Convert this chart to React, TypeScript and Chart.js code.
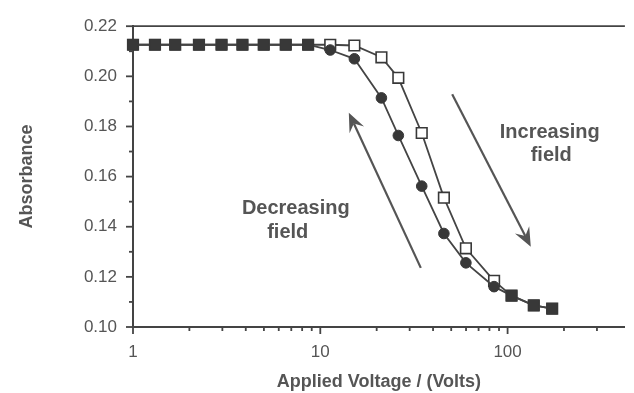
import React, { useEffect, useRef } from "react";
import { Chart, registerables } from "chart.js";

Chart.register(...registerables);

// ---- data ----
const voltages = [1.0, 1.31, 1.68, 2.25, 2.97, 3.84, 4.99, 6.54, 8.61, 11.3, 15.2, 21.2, 26.1, 34.8, 45.7, 59.9, 84.7, 105, 138, 173];
const increasingField = [0.2126, 0.2126, 0.2126, 0.2126, 0.2126, 0.2126, 0.2126, 0.2126, 0.2126, 0.2126, 0.2123, 0.2076, 0.1994, 0.1774, 0.1516, 0.1314, 0.1184, 0.1125, 0.1086, 0.1073];
const decreasingField = [0.2126, 0.2126, 0.2126, 0.2126, 0.2126, 0.2126, 0.2126, 0.2126, 0.2126, 0.2105, 0.2070, 0.1914, 0.1764, 0.1562, 0.1373, 0.1256, 0.1161, 0.1125, 0.1086, 0.1073];

const xTickValues = [1, 2, 3, 4, 5, 6, 7, 8, 9, 10, 20, 30, 40, 50, 60, 70, 80, 90, 100, 200, 300];
const xTickLabels = ["1", "10", "100"];
const yTickValues = [0.10, 0.11, 0.12, 0.13, 0.14, 0.15, 0.16, 0.17, 0.18, 0.19, 0.20, 0.21, 0.22];
const yTickLabels = ["0.10", "0.12", "0.14", "0.16", "0.18", "0.20", "0.22"];

// annotations in data coordinates
const arrowDecreasing = { from: [34.4, 0.1236], to: [14.2, 0.1855] };
const arrowIncreasing = { from: [50.6, 0.1929], to: [133, 0.132] };
const annotationTexts = [
  { text: "Increasing", x: 168, y: 0.1774 },
  { text: "field", x: 171, y: 0.1684 },
  { text: "Decreasing", x: 7.4, y: 0.1473 },
  { text: "field", x: 6.7, y: 0.1379 },
];

const FONT = "'Liberation Sans', Arial, Helvetica, sans-serif";
const TEXT = "#555";
const INK = "#383838";

const tickMarksPlugin = {
  id: "tickMarks",
  afterDraw(chart: any) {
    const { ctx, chartArea, scales } = chart;
    const xs = scales.x;
    const ys = scales.y;
    ctx.save();
    ctx.strokeStyle = "#444";
    ctx.lineWidth = 1.8;
    // top frame line
    ctx.beginPath();
    ctx.moveTo(chartArea.left, chartArea.top);
    ctx.lineTo(chartArea.right, chartArea.top);
    ctx.stroke();
    xs.ticks.forEach((t: any) => {
      const px = xs.getPixelForValue(t.value);
      const len = xTickLabels.includes(String(t.value)) ? 7 : 4;
      ctx.beginPath();
      ctx.moveTo(px, chartArea.bottom);
      ctx.lineTo(px, chartArea.bottom + len);
      ctx.stroke();
    });
    ys.ticks.forEach((t: any) => {
      const py = ys.getPixelForValue(t.value);
      const major = yTickLabels.includes(Number(t.value).toFixed(2));
      const len = major ? 7 : 4;
      ctx.beginPath();
      ctx.moveTo(chartArea.left - len, py);
      ctx.lineTo(chartArea.left, py);
      ctx.stroke();
    });
    ctx.restore();
  },
};

function drawArrow(ctx: any, x1: number, y1: number, x2: number, y2: number) {
  const ang = Math.atan2(y2 - y1, x2 - x1);
  const headLen = 19;
  const headW = 8;
  const notch = 12;
  ctx.beginPath();
  ctx.moveTo(x1, y1);
  ctx.lineTo(x2 - Math.cos(ang) * notch, y2 - Math.sin(ang) * notch);
  ctx.stroke();
  const bx = x2 - Math.cos(ang) * headLen;
  const by = y2 - Math.sin(ang) * headLen;
  const nx = -Math.sin(ang);
  const ny = Math.cos(ang);
  ctx.beginPath();
  ctx.moveTo(x2, y2);
  ctx.lineTo(bx + nx * headW, by + ny * headW);
  ctx.lineTo(x2 - Math.cos(ang) * notch, y2 - Math.sin(ang) * notch);
  ctx.lineTo(bx - nx * headW, by - ny * headW);
  ctx.closePath();
  ctx.fill();
}

const annotationPlugin = {
  id: "annotations",
  afterDraw(chart: any) {
    const { ctx, scales } = chart;
    const xs = scales.x;
    const ys = scales.y;
    ctx.save();
    ctx.strokeStyle = "#555";
    ctx.fillStyle = "#555";
    ctx.lineWidth = 2.2;
    [arrowDecreasing, arrowIncreasing].forEach((a) => {
      drawArrow(
        ctx,
        xs.getPixelForValue(a.from[0]),
        ys.getPixelForValue(a.from[1]),
        xs.getPixelForValue(a.to[0]),
        ys.getPixelForValue(a.to[1])
      );
    });
    ctx.font = `bold 20px ${FONT}`;
    ctx.textAlign = "center";
    ctx.textBaseline = "middle";
    annotationTexts.forEach((t) => {
      ctx.fillText(t.text, xs.getPixelForValue(t.x), ys.getPixelForValue(t.y));
    });
    ctx.restore();
  },
};

export default function App() {
  const canvasRef = useRef<HTMLCanvasElement | null>(null);

  useEffect(() => {
    document.body.style.margin = "0";
    const canvas = canvasRef.current;
    if (!canvas) return;

    const incPoints = voltages.map((v, i) => ({ x: v, y: increasingField[i] }));
    const decPoints = voltages.map((v, i) => ({ x: v, y: decreasingField[i] }));
    const same = (i: number) => increasingField[i] === decreasingField[i];

    const chart = new Chart(canvas, {
      type: "line",
      data: {
        datasets: [
          {
            label: "Decreasing field",
            data: decPoints,
            borderColor: "#444",
            borderWidth: 1.8,
            backgroundColor: INK,
            pointBackgroundColor: INK,
            pointBorderColor: INK,
            pointBorderWidth: 1,
            pointStyle: (c: any) => (same(c.dataIndex) ? "rect" : "circle"),
            pointRadius: (c: any) => (same(c.dataIndex) ? 7.5 : 5.3),
            tension: 0,
            clip: false,
          } as any,
          {
            label: "Increasing field",
            data: incPoints,
            borderColor: "#444",
            borderWidth: 1.8,
            backgroundColor: "#fff",
            pointBackgroundColor: "#fff",
            pointBorderColor: INK,
            pointBorderWidth: 1.6,
            pointStyle: "rect",
            pointRadius: 7.5,
            tension: 0,
            clip: false,
          } as any,
        ],
      },
      options: {
        animation: false,
        responsive: true,
        maintainAspectRatio: false,
        layout: { padding: { top: 20, right: 2, left: 0, bottom: 0 } },
        plugins: {
          legend: { display: false },
          tooltip: { enabled: false },
        },
        scales: {
          x: {
            type: "logarithmic",
            min: 1,
            max: 423,
            grid: { display: false, drawTicks: false },
            border: { display: true, color: "#444", width: 2 },
            afterBuildTicks: (scale: any) => {
              scale.ticks = xTickValues.map((v) => ({ value: v }));
            },
            afterFit: (scale: any) => {
              scale.height = 66;
            },
            ticks: {
              autoSkip: false,
              maxRotation: 0,
              padding: 15,
              color: TEXT,
              font: { family: FONT, size: 17 },
              callback: (value: any) => (xTickLabels.includes(String(value)) ? String(value) : ""),
            },
            title: {
              display: true,
              text: "Applied Voltage / (Volts)",
              color: TEXT,
              font: { family: FONT, size: 18, weight: "bold" },
              padding: { top: 0, bottom: 0 },
            },
          },
          y: {
            type: "linear",
            min: 0.1,
            max: 0.22,
            grid: { display: false, drawTicks: false },
            border: { display: true, color: "#444", width: 2 },
            afterBuildTicks: (scale: any) => {
              scale.ticks = yTickValues.map((v) => ({ value: v }));
            },
            afterFit: (scale: any) => {
              scale.width = 133;
            },
            ticks: {
              autoSkip: false,
              padding: 16,
              color: TEXT,
              font: { family: FONT, size: 17 },
              callback: (value: any) => {
                const s = Number(value).toFixed(2);
                return yTickLabels.includes(s) ? s : "";
              },
            },
            title: {
              display: true,
              text: "Absorbance",
              color: TEXT,
              font: { family: FONT, size: 18, weight: "bold" },
              padding: { top: 16, bottom: 0 },
            },
          },
        },
      } as any,
      plugins: [tickMarksPlugin, annotationPlugin],
    });

    return () => chart.destroy();
  }, []);

  return (
    <div style={{ position: "relative", width: 634, height: 393 }}>
      <canvas ref={canvasRef} />
    </div>
  );
}
